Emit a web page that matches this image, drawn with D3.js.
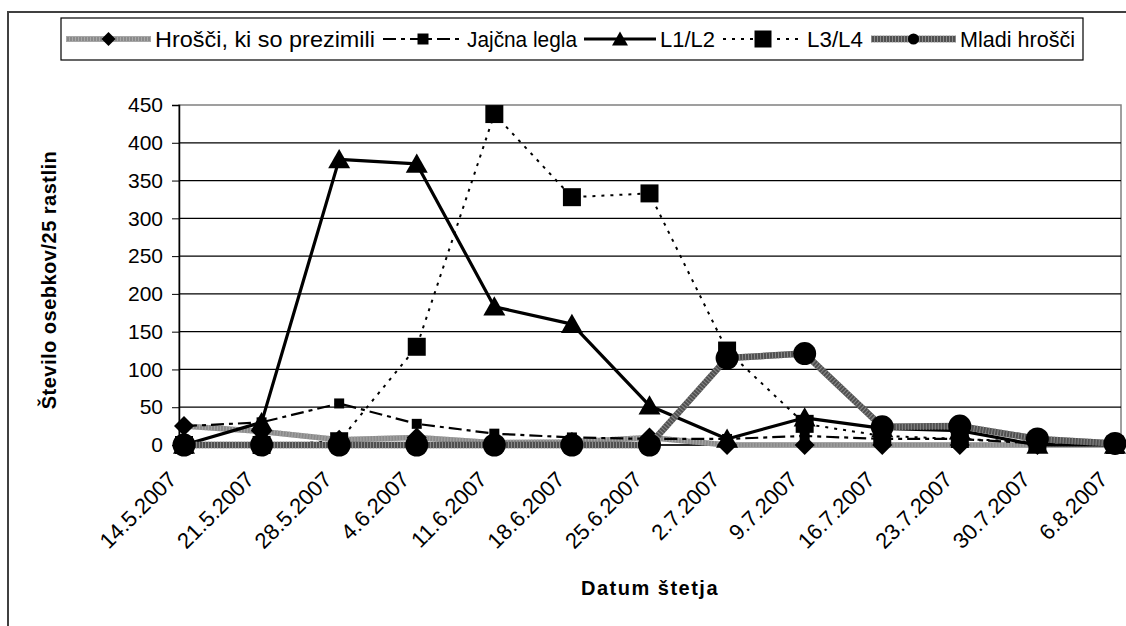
<!DOCTYPE html>
<html>
<head>
<script src="https://d3js.org/d3.v7.min.js"></script>
<style>
  body { margin: 0; background: #ffffff; }
  svg { display: block; font-family: "Liberation Sans", Arial, sans-serif; }
</style>
</head>
<body>
<div id="container"></div>
<script>
// categories (dates of counting)
var dates = ["14.5.2007", "21.5.2007", "28.5.2007", "4.6.2007", "11.6.2007", "18.6.2007",
  "25.6.2007", "2.7.2007", "9.7.2007", "16.7.2007", "23.7.2007", "30.7.2007", "6.8.2007"];

// series values
var hrosciPrezimili = [25, 18, 7, 10, 3, 4, 10, 0, 0, 0, 0, 0, 0];
var jajcnaLegla = [25, 30, 55, 28, 15, 10, 8, 8, 12, 8, 8, 2, 0];
var l1l2 = [0, 30, 378, 372, 183, 160, 52, 8, 36, 22, 19, 0, 0];
var l3l4 = [0, 0, 5, 130, 438, 328, 333, 125, 28, 12, 8, 4, 0];
var mladiHrosci = [0, 0, 0, 0, 0, 0, 0, 115, 121, 24, 25, 8, 2];

var yTicks = [0, 50, 100, 150, 200, 250, 300, 350, 400, 450];

var W = 1126, H = 626;
var plot = { left: 179, top: 105, right: 1121, bottom: 445 };

var svg = d3.select("#container").append("svg")
  .attr("width", W)
  .attr("height", H);

// outer chart frame
svg.append("rect")
  .attr("x", 8).attr("y", 12)
  .attr("width", W + 20).attr("height", H + 20)
  .style("fill", "none").style("stroke", "#404040").style("stroke-width", 2);

var x = d3.scalePoint().domain(dates).range([plot.left + 5, plot.right - 6]);
var y = d3.scaleLinear().domain([0, 450]).range([plot.bottom, plot.top]);

// plot area border
svg.append("rect")
  .attr("x", plot.left).attr("y", plot.top)
  .attr("width", plot.right - plot.left).attr("height", plot.bottom - plot.top)
  .style("fill", "none").style("stroke", "#808080").style("stroke-width", 1.5);

// gridlines
svg.append("g").selectAll("line")
  .data(yTicks.filter(function(d) { return d > 0 && d < 450; }))
  .enter().append("line")
  .attr("x1", plot.left).attr("x2", plot.right)
  .attr("y1", function(d) { return y(d); }).attr("y2", function(d) { return y(d); })
  .style("stroke", "#000").style("stroke-width", 1.2);

// y axis
var yAxis = svg.append("g")
  .attr("transform", "translate(" + plot.left + ",0)")
  .call(d3.axisLeft(y).tickValues(yTicks).tickSize(7).tickPadding(9));
yAxis.select(".domain").style("stroke", "#000").style("stroke-width", 1.5);
yAxis.selectAll("text").style("font-size", "21px").style("fill", "#000")
  .style("font-family", "'Liberation Sans', Arial, sans-serif");

// x axis
var xAxis = svg.append("g")
  .attr("transform", "translate(0," + plot.bottom + ")")
  .call(d3.axisBottom(x).tickSize(6).tickSizeOuter(0));
xAxis.select(".domain").attr("d", "M" + plot.left + ",0H" + plot.right)
  .style("stroke", "#000").style("stroke-width", 1.5);
xAxis.selectAll("text")
  .style("font-size", "22px").style("fill", "#000")
  .style("font-family", "'Liberation Sans', Arial, sans-serif")
  .style("text-anchor", "end")
  .attr("x", -30).attr("y", 13).attr("dy", "0.35em")
  .attr("transform", "rotate(-45)");

// marker shapes
function markerPath(type, s) {
  var h = s / 2;
  if (type === "diamond") return "M0," + (-h) + "L" + h + ",0L0," + h + "L" + (-h) + ",0Z";
  if (type === "square") return "M" + (-h) + "," + (-h) + "H" + h + "V" + h + "H" + (-h) + "Z";
  if (type === "triangle") return "M0," + (-h * 0.95) + "L" + h + "," + (h * 0.8) + "L" + (-h) + "," + (h * 0.8) + "Z";
  return d3.arc()({ innerRadius: 0, outerRadius: h, startAngle: 0, endAngle: 2 * Math.PI });
}

var series = [
  { name: "Hrošči, ki so prezimili", values: hrosciPrezimili, stroke: "#8a8a8a", width: 5.5, dash: null,
    hatch: "#a8a8a8", marker: "diamond", size: 20, legendSize: 14, lx: 66, lw: 85, tx: 155, tw: 220 },
  { name: "Jajčna legla", values: jajcnaLegla, stroke: "#000", width: 2.2, dash: "13,5,4,5",
    marker: "square", size: 10, legendSize: 11, lx: 383, lw: 80, tx: 467, tw: 110 },
  { name: "L1/L2", values: l1l2, stroke: "#000", width: 3.2, dash: null,
    marker: "triangle", size: 22, legendSize: 16, lx: 584, lw: 72, tx: 660, tw: 55 },
  { name: "L3/L4", values: l3l4, stroke: "#000", width: 2, dash: "3,6",
    marker: "square", size: 18, legendSize: 17, lx: 723, lw: 80, tx: 807, tw: 56 },
  { name: "Mladi hrošči", values: mladiHrosci, stroke: "#505050", width: 6.5, dash: null,
    hatch: "#8a8a8a", marker: "circle", size: 23, legendSize: 11, lx: 871, lw: 85, tx: 960, tw: 115 }
];

var line = d3.line()
  .x(function(d, i) { return x(dates[i]); })
  .y(function(d) { return y(d); });

series.forEach(function(s) {
  var g = svg.append("g");
  g.append("path")
    .attr("d", line(s.values))
    .style("fill", "none")
    .style("stroke", s.stroke)
    .style("stroke-width", s.width)
    .style("stroke-linejoin", "round")
    .style("stroke-dasharray", s.dash);
  if (s.hatch) {
    g.append("path")
      .attr("d", line(s.values))
      .style("fill", "none")
      .style("stroke", s.hatch)
      .style("stroke-width", s.width)
      .style("stroke-dasharray", "1,2");
  }
  g.selectAll(".m")
    .data(s.values)
    .enter().append("path")
    .attr("class", "m")
    .attr("transform", function(d, i) { return "translate(" + x(dates[i]) + "," + y(d) + ")"; })
    .attr("d", markerPath(s.marker, s.size))
    .style("fill", "#000");
});

// legend
var legend = svg.append("g");
legend.append("rect")
  .attr("x", 61).attr("y", 18).attr("width", 1022).attr("height", 42)
  .style("fill", "#fff").style("stroke", "#000").style("stroke-width", 1.2);

var ly = 39;
series.forEach(function(s) {
  var item = legend.append("g");
  item.append("line")
    .attr("x1", s.lx).attr("x2", s.lx + s.lw).attr("y1", ly).attr("y2", ly)
    .style("stroke", s.stroke).style("stroke-width", s.width)
    .style("stroke-dasharray", s.dash);
  if (s.hatch) {
    item.append("line")
      .attr("x1", s.lx).attr("x2", s.lx + s.lw).attr("y1", ly).attr("y2", ly)
      .style("stroke", s.hatch).style("stroke-width", s.width)
      .style("stroke-dasharray", "1,2");
  }
  item.append("path")
    .attr("transform", "translate(" + (s.lx + s.lw / 2) + "," + ly + ")")
    .attr("d", markerPath(s.marker, s.legendSize))
    .style("fill", "#000");
  item.append("text")
    .attr("x", s.tx).attr("y", ly).attr("dy", "0.36em")
    .attr("textLength", s.tw).attr("lengthAdjust", "spacingAndGlyphs")
    .style("font-size", "22px")
    .text(s.name);
});

// axis titles
svg.append("text")
  .attr("transform", "translate(56,280) rotate(-90)")
  .style("text-anchor", "middle")
  .style("font-size", "20px").style("font-weight", "bold")
  .style("letter-spacing", "0.5px")
  .text("Število osebkov/25 rastlin");

svg.append("text")
  .attr("x", 650).attr("y", 595)
  .style("text-anchor", "middle")
  .style("font-size", "20px").style("font-weight", "bold")
  .style("letter-spacing", "1.5px")
  .text("Datum štetja");
</script>
</body>
</html>
